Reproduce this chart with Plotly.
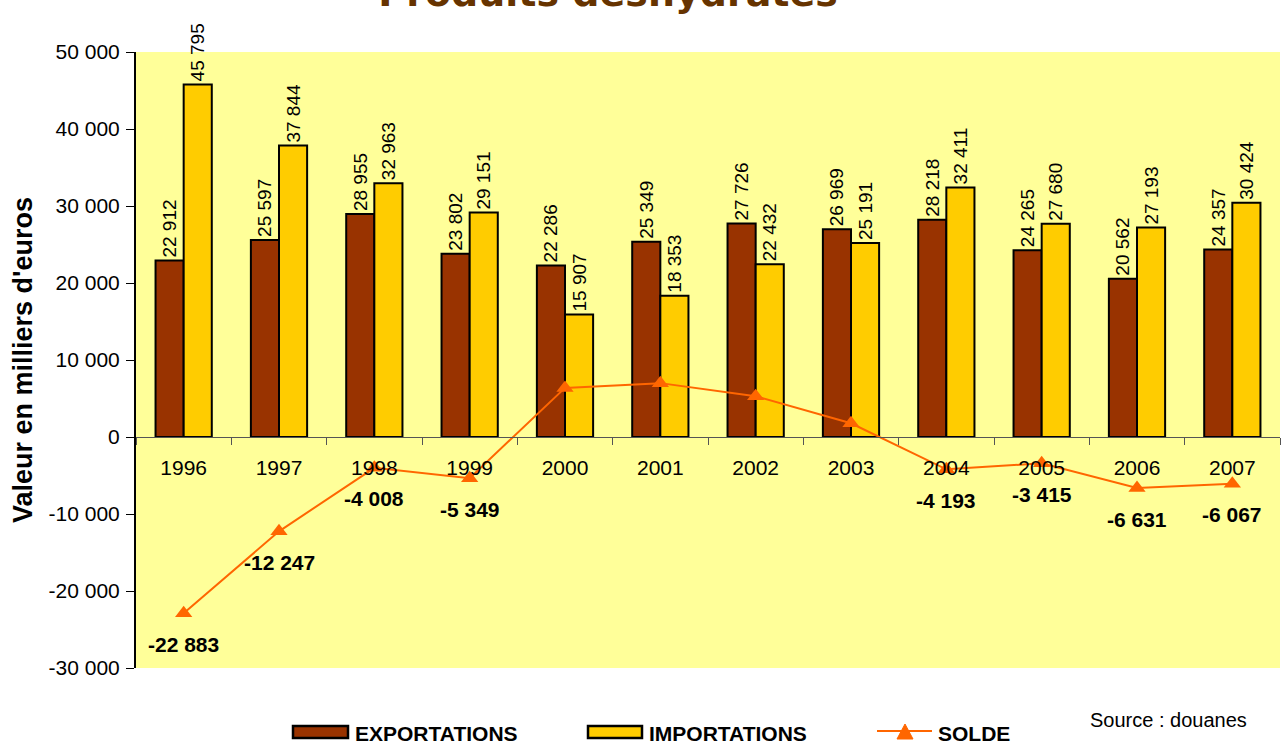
import plotly.graph_objects as go

years = ["1996", "1997", "1998", "1999", "2000", "2001", "2002", "2003", "2004", "2005", "2006", "2007"]
exportations = [22912, 25597, 28955, 23802, 22286, 25349, 27726, 26969, 28218, 24265, 20562, 24357]
importations = [45795, 37844, 32963, 29151, 15907, 18353, 22432, 25191, 32411, 27680, 27193, 30424]
solde = [-22883, -12247, -4008, -5349, 6379, 6996, 5294, 1778, -4193, -3415, -6631, -6067]
y_ticks = [-30000, -20000, -10000, 0, 10000, 20000, 30000, 40000, 50000]

EXP_COLOR = "#993300"
IMP_COLOR = "#FFCC00"
SOLDE_COLOR = "#FF6600"
FONT = "Liberation Sans, Arial, sans-serif"

W, H = 1283, 743
ML, MR, MT, MB = 136, 3, 52, 75
PW, PH = W - ML - MR, H - MT - MB


def fmt(v):
    return f"{v:,}".replace(",", " ")


def px(x):
    return (x - ML) / PW


def py(y):
    return (H - MB - y) / PH


fig = go.Figure()
fig.add_trace(go.Bar(
    x=years, y=exportations, name="EXPORTATIONS",
    marker=dict(color=EXP_COLOR, line=dict(color="black", width=2)),
    text=[fmt(v) for v in exportations], textposition="outside", textangle=-90,
    textfont=dict(family=FONT, size=19, color="black"), constraintext="none",
    cliponaxis=False,
))
fig.add_trace(go.Bar(
    x=years, y=importations, name="IMPORTATIONS",
    marker=dict(color=IMP_COLOR, line=dict(color="black", width=2)),
    text=[fmt(v) for v in importations], textposition="outside", textangle=-90,
    textfont=dict(family=FONT, size=19, color="black"), constraintext="none",
    cliponaxis=False,
))
fig.add_trace(go.Scatter(
    x=years, y=solde, name="SOLDE", mode="lines+markers",
    line=dict(color=SOLDE_COLOR, width=2),
    marker=dict(symbol="triangle-up", size=15, color=SOLDE_COLOR),
    cliponaxis=False,
))

# labels of the negative balance values
for i, v in enumerate(solde):
    if v < 0:
        fig.add_annotation(x=i, y=v, xref="x", yref="y", text=fmt(v), showarrow=False, yshift=-31,
                           font=dict(family=FONT, size=21, color="black", weight="bold"))

# custom legend (wide swatches like the original)
legend_font = dict(family=FONT, size=21, color="black", weight="bold")
for x0, x1, color, name in [(293, 348, EXP_COLOR, "EXPORTATIONS"), (588, 642, IMP_COLOR, "IMPORTATIONS")]:
    fig.add_shape(type="rect", xref="paper", yref="paper", x0=px(x0), x1=px(x1), y0=py(738), y1=py(726),
                  fillcolor=color, line=dict(color="black", width=2.5))
    fig.add_annotation(xref="paper", yref="paper", x=px(x1 + 5), y=py(733), xanchor="left", yanchor="middle",
                       text=name, showarrow=False, font=legend_font)
fig.add_shape(type="line", xref="paper", yref="paper", x0=px(877), x1=px(932), y0=py(731), y1=py(731),
              line=dict(color=SOLDE_COLOR, width=2))
fig.add_shape(type="path", xref="paper", yref="paper",
              path=f"M {px(897)} {py(739)} L {px(913)} {py(739)} L {px(905)} {py(724)} Z",
              fillcolor=SOLDE_COLOR, line=dict(color=SOLDE_COLOR, width=1))
fig.add_annotation(xref="paper", yref="paper", x=px(936), y=py(733), xanchor="left", yanchor="middle",
                   text="SOLDE", showarrow=False, font=legend_font)

fig.add_annotation(xref="paper", yref="paper", x=px(1088), y=py(720), xanchor="left", yanchor="middle",
                   text="Source : douanes", showarrow=False,
                   font=dict(family=FONT, size=20, color="black"))

fig.update_layout(
    width=W, height=H,
    margin=dict(l=ML, r=MR, t=MT, b=MB),
    paper_bgcolor="white", plot_bgcolor="#FFFF99",
    barmode="group", bargap=0.41, bargroupgap=0,
    font=dict(family=FONT, size=21, color="black"),
    title=dict(text="Produits déshydratés", x=0.474, xanchor="center", xref="container",
               y=0.9915, yanchor="bottom", yref="container",
               font=dict(family="DejaVu Sans, sans-serif", size=38, color="#663300", weight="bold")),
    showlegend=False,
    xaxis=dict(type="category", categoryorder="array", categoryarray=years,
               range=[-0.5, len(years) - 0.5], autorange=False,
               anchor="free", position=0.375, showline=True,
               linecolor="#555555", linewidth=1, ticks="outside", tickson="boundaries",
               ticklen=7, tickcolor="#555555", tickangle=0, ticklabelstandoff=12,
               tickfont=dict(family=FONT, size=21, color="black"), showgrid=False, zeroline=False),
    yaxis=dict(range=[-30000, 50000], tickvals=y_ticks, ticktext=[fmt(v) for v in y_ticks],
               showline=True, linecolor="black", linewidth=2, ticks="outside", ticklen=8,
               tickcolor="black", showgrid=False, zeroline=False, automargin=False,
               ticklabelstandoff=2,
               tickfont=dict(family=FONT, size=21, color="black"),
               title=dict(text="Valeur en milliers d'euros", standoff=8,
                          font=dict(family=FONT, size=27, color="black", weight="bold"))),
)

fig.write_html("out.html", config={"displayModeBar": False},
               post_script="document.body.style.margin='0';document.body.style.overflow='hidden';")
